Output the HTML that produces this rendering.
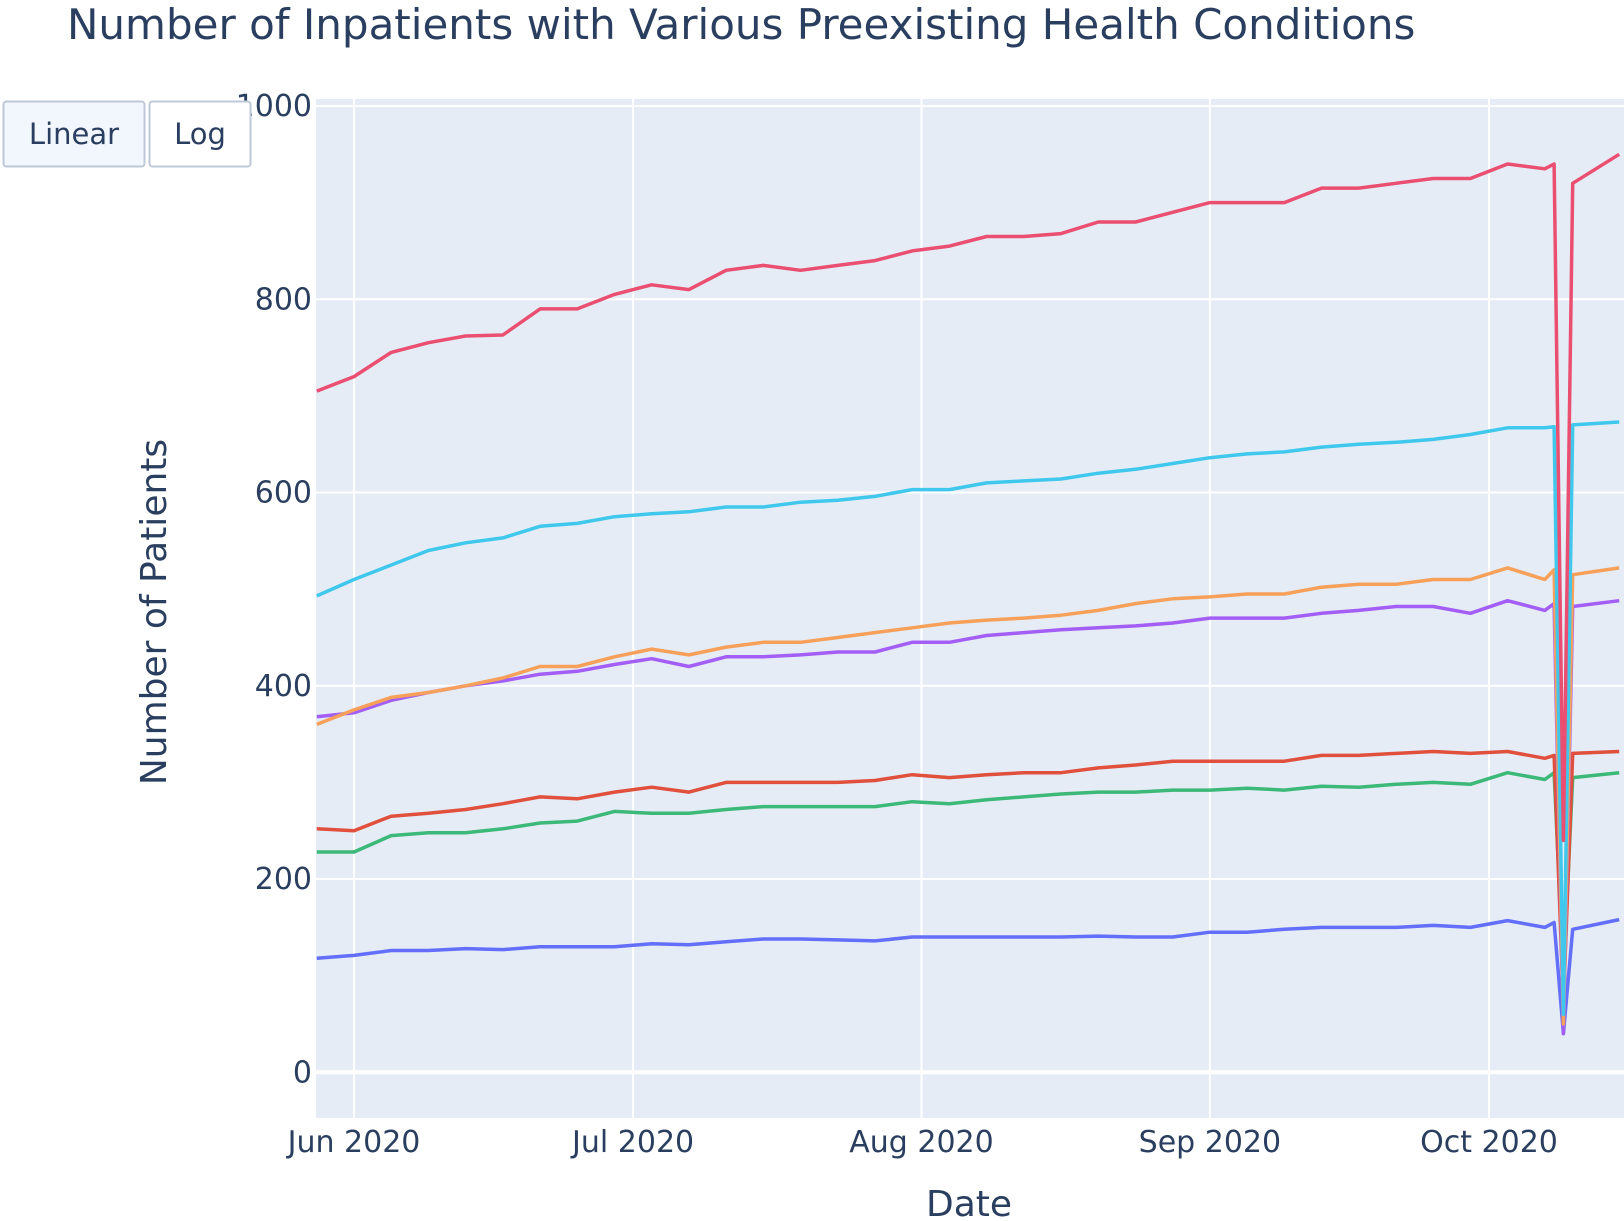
<!DOCTYPE html>
<html><head><meta charset="utf-8"><style>
html,body{margin:0;padding:0;background:#fff;width:1624px;height:1221px;overflow:hidden}
svg{display:block;font-family:"DejaVu Sans","Liberation Sans",sans-serif}
</style></head><body>
<svg id="chart" width="1624" height="1221">
<rect x="0" y="0" width="1624" height="1221" fill="#fff"/>
<text x="67" y="39" font-size="42" fill="#2a3f5f">Number of Inpatients with Various Preexisting Health Conditions</text>
<rect x="316" y="99" width="1308" height="1019" fill="#e5ecf6"/>
<g id="grid"></g>
<g id="series"></g>
<g id="ticks"></g>
<text x="969" y="1216" font-size="36" fill="#2a3f5f" text-anchor="middle">Date</text>
<text transform="translate(166,612) rotate(-90)" font-size="36" fill="#2a3f5f" text-anchor="middle">Number of Patients</text>
<g>
<rect x="3.5" y="101.5" width="141" height="65" rx="3" fill="#f2f6fd" stroke="#bec8d9" stroke-width="2"/>
<text x="74" y="144" font-size="29" fill="#2a3f5f" text-anchor="middle">Linear</text>
</g>
<g>
<rect x="149.5" y="101.5" width="101" height="65" rx="3" fill="#fff" stroke="#bec8d9" stroke-width="2"/>
<text x="200" y="144" font-size="29" fill="#2a3f5f" text-anchor="middle">Log</text>
</g>
</svg>
<script>
// days offset from Jun 1 2020
const days = [-4,0,4,8,12,16,20,24,28,32,36,40,44,48,52,56,60,64,68,72,76,80,84,88,92,96,100,104,108,112,116,120,124,128,129,130,131,136];
const diabetes = [705,720,745,755,762,763,790,790,805,815,810,830,835,830,835,840,850,855,865,865,868,880,880,890,900,900,900,915,915,920,925,925,940,935,940,240,920,950];
const hypertension = [493,510,525,540,548,553,565,568,575,578,580,585,585,590,592,596,603,603,610,612,614,620,624,630,636,640,642,647,650,652,655,660,667,667,668,60,670,673];
const obesity = [360,375,388,393,400,408,420,420,430,438,432,440,445,445,450,455,460,465,468,470,473,478,485,490,492,495,495,502,505,505,510,510,522,510,520,50,515,522];
const heartDisease = [368,372,385,393,400,405,412,415,422,428,420,430,430,432,435,435,445,445,452,455,458,460,462,465,470,470,470,475,478,482,482,475,488,478,485,40,482,488];
const copd = [252,250,265,268,272,278,285,283,290,295,290,300,300,300,300,302,308,305,308,310,310,315,318,322,322,322,322,328,328,330,332,330,332,325,328,70,330,332];
const kidney = [228,228,245,248,248,252,258,260,270,268,268,272,275,275,275,275,280,278,282,285,288,290,290,292,292,294,292,296,295,298,300,298,310,303,310,100,305,310];
const cancer = [118,121,126,126,128,127,130,130,130,133,132,135,138,138,137,136,140,140,140,140,140,141,140,140,145,145,148,150,150,150,152,150,157,150,155,40,148,158];
const yTicks = [0,200,400,600,800,1000];
const xTickDays = [0,30,61,92,122];
const xTickLabels = ["Jun 2020","Jul 2020","Aug 2020","Sep 2020","Oct 2020"];

const NS="http://www.w3.org/2000/svg";
const xs = d => 354 + (d*1135/122);
const ys = v => 1072.3 - v*(1072.3-106)/1000;
function mk(tag, attrs, parent){const e=document.createElementNS(NS,tag);for(const k in attrs)e.setAttribute(k,attrs[k]);parent.appendChild(e);return e;}
const grid=document.getElementById('grid'), ticks=document.getElementById('ticks'), ser=document.getElementById('series');
yTicks.forEach(v=>{
  const l=mk('line',{x1:316,x2:1624,y1:ys(v),y2:ys(v),stroke:'#fff','stroke-width':v===0?4:2},grid);
  
  
  const t=mk('text',{x:312,y:ys(v)+10,'font-size':30,fill:'#2a3f5f','text-anchor':'end'},ticks);
  t.textContent=v;
  
  
});
xTickDays.forEach((d,i)=>{
  const l=mk('line',{x1:xs(d),x2:xs(d),y1:99,y2:1118,stroke:'#fff','stroke-width':2},grid);
  
  
  const t=mk('text',{x:xs(d),y:1152,'font-size':30,fill:'#2a3f5f','text-anchor':'middle'},ticks);
  t.textContent=xTickLabels[i];
  
  
});
const seriesList=[[cancer,'#636efa','cancer-line'],[kidney,'#3cb878','kidney-line'],[copd,'#e0503c','copd-line'],[heartDisease,'#a35ef5','heart-disease-line'],[obesity,'#f7a05a','obesity-line'],[hypertension,'#3fc8ec','hypertension-line'],[diabetes,'#ea4f72','diabetes-line']];
seriesList.forEach(s=>{
  const pts=days.map((d,i)=>xs(d).toFixed(1)+','+ys(s[0][i]).toFixed(1)).join(' ');
  const p=mk('polyline',{points:pts,fill:'none',stroke:s[1],'stroke-width':3.5,'stroke-linejoin':'round'},ser);
  
  
});
</script>
</body></html>
